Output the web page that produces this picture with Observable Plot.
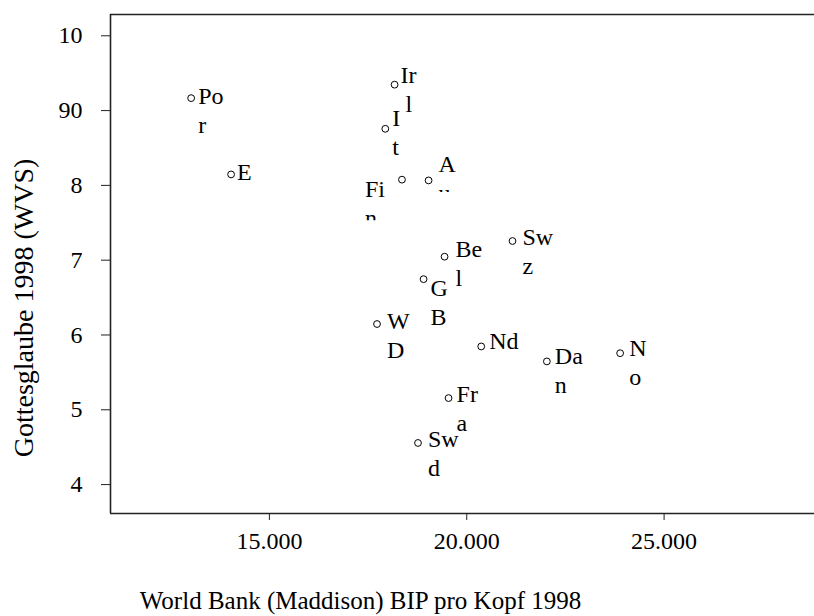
<!DOCTYPE html>
<html>
<head>
<meta charset="utf-8">
<script src="https://cdn.jsdelivr.net/npm/d3@7"></script>
<script src="https://cdn.jsdelivr.net/npm/@observablehq/plot@0.6"></script>
<style>
  html, body { margin: 0; padding: 0; background: #fff; overflow: hidden; }
</style>
</head>
<body>
<div id="chart"></div>
<script>
// ---- data ----
const countries = ["Por", "E", "Irl", "It", "Fin", "Aut", "Bel", "Swz", "GB", "WD", "Nd", "Dan", "No", "Fra", "Swd"];
const labelText = ["Po\nr", "E", "Ir\nl", "I\nt", "Fi\nn", "A\nu", "Be\nl", "Sw\nz", "G\nB", "W\nD", "Nd", "Da\nn", "N\no", "Fr\na", "Sw\nd"];
const gdp = [13018, 14030, 18172, 17937, 18359, 19033, 19438, 21159, 18906, 17727, 20367, 22030, 23886, 19539, 18765];
const belief = [9.22, 8.2, 9.4, 8.81, 8.13, 8.12, 7.1, 7.31, 6.8, 6.2, 5.9, 5.7, 5.81, 5.21, 4.61];
const xTicks = [15000, 20000, 25000];
const xTickLabels = ["15.000", "20.000", "25.000"];
const yTicks = [10, 9, 8, 7, 6, 5, 4];
const yTickLabels = ["10", "90", "8", "7", "6", "5", "4"];
const xTitle = "World Bank (Maddison) BIP pro Kopf 1998";
const yTitle = "Gottesglaube 1998 (WVS)";

// ---- label layout (offset of text start / first baseline from the point, px) ----
const labelLayout = {
  Por: {dx: 7, dy: 6}, E: {dx: 6, dy: 6}, Irl: {dx: 6, dy: -2, dx2: 5}, It: {dx: 7, dy: -3},
  Fin: {dx: -37, dy: 17, clip: 41}, Aut: {dx: 10, dy: -8, clip: 12}, Bel: {dx: 11, dy: 0},
  Swz: {dx: 10, dy: 4}, GB: {dx: 7, dy: 17}, WD: {dx: 10, dy: 5}, Nd: {dx: 8, dy: 3},
  Dan: {dx: 8, dy: 3}, No: {dx: 9, dy: 3}, Fra: {dx: 8, dy: 4}, Swd: {dx: 10, dy: 4}
};
const lineGap = 29;

const data = countries.map((c, i) => ({country: c, label: labelText[i], gdp: gdp[i], belief: belief[i]}));

const xDomain = [10975, 28810];
const yDomain = [3.667, 10.338];
const font = "'Liberation Serif', 'Times New Roman', Times, serif";
const ink = "#222";

const labelMarks = [];
data.forEach(d => {
  const lay = labelLayout[d.country];
  d.label.split("\n").forEach((line, li) => {
    labelMarks.push(Plot.text([d], {
      x: "gdp", y: "belief", text: () => line,
      textAnchor: "start", lineAnchor: "bottom",
      dx: lay.dx + (li > 0 && lay.dx2 ? lay.dx2 : 0), dy: lay.dy + li * lineGap,
      fontSize: 24, fill: "#000",
      ariaDescription: (li > 0 && lay.clip != null) ? "clip-" + d.country : "label"
    }));
  });
});

const plot = Plot.plot({
  width: 814, height: 616,
  marginLeft: 110, marginRight: 0, marginTop: 14, marginBottom: 103,
  style: {fontFamily: font, fontSize: "24px", color: "#000", background: "#fff", overflow: "visible"},
  x: {domain: xDomain},
  y: {domain: yDomain},
  marks: [
    Plot.ruleY([yDomain[1]], {stroke: ink, strokeWidth: 1.6}),
    Plot.ruleY([yDomain[0]], {stroke: ink, strokeWidth: 1.6}),
    Plot.ruleX([xDomain[0]], {stroke: ink, strokeWidth: 1.6}),
    Plot.axisY(yTicks, {
      tickSize: 9, tickPadding: 19, dy: -4, stroke: ink, fontSize: 24,
      tickFormat: d => yTickLabels[yTicks.indexOf(d)], label: null
    }),
    Plot.axisX(xTicks, {
      tickSize: 7, tickPadding: 11, stroke: ink, fontSize: 24,
      tickFormat: d => xTickLabels[xTicks.indexOf(d)], label: null
    }),
    Plot.dot(data, {x: "gdp", y: "belief", r: 3.4, stroke: "#000", strokeWidth: 1, fill: "#fff"}),
    ...labelMarks,
    Plot.text([xTitle], {frameAnchor: "bottom", text: d => d, dx: 360 - 462, dy: 95, lineAnchor: "bottom", textAnchor: "middle", fontSize: 25}),
    Plot.text([yTitle], {frameAnchor: "left", text: d => d, rotate: -90, dx: 24 - 110, dy: 44, lineAnchor: "middle", textAnchor: "middle", fontSize: 28})
  ]
});

document.getElementById("chart").appendChild(plot);

// clip the partly hidden second lines of some labels (like the boxed labels of the original)
const ys = plot.scale("y");
const svg = d3.select(plot);
const defs = svg.insert("defs", ":first-child");
data.forEach(d => {
  const lay = labelLayout[d.country];
  if (lay.clip == null) return;
  const cy = ys.apply(d.belief) + lay.clip;
  const id = "clip-" + d.country;
  defs.append("clipPath").attr("id", id).append("rect")
    .attr("x", 0).attr("y", 0).attr("width", 814).attr("height", cy);
  svg.selectAll(`g[aria-description="${id}"]`).each(function() {
    const wrap = document.createElementNS("http://www.w3.org/2000/svg", "g");
    wrap.setAttribute("clip-path", `url(#${id})`);
    this.parentNode.insertBefore(wrap, this);
    wrap.appendChild(this);
  });
});
</script>
</body>
</html>
